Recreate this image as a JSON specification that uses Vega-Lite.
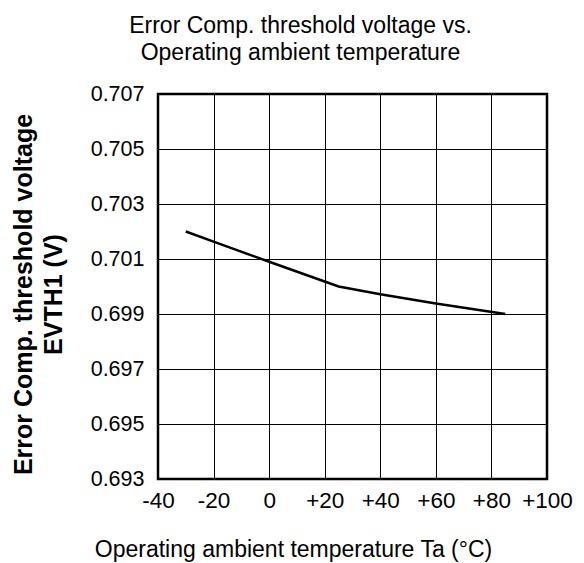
{
  "$schema": "https://vega.github.io/schema/vega-lite/v6.json",
  "autosize": "none",
  "width": 389,
  "height": 385,
  "padding": {"left": 158, "top": 94, "right": 37, "bottom": 84},
  "background": "white",
  "config": {
    "font": "Liberation Sans",
    "view": {"stroke": "black", "strokeWidth": 2.5},
    "axis": {"grid": true, "gridColor": "black", "gridOpacity": 1, "gridWidth": 1, "domain": false, "ticks": false, "labelColor": "black", "titleColor": "black", "labelFontSize": 21.5, "labelFont": "Liberation Sans", "labelOverlap": false, "labelFlush": false}
  },
  "title": {
    "text": ["Error Comp. threshold voltage vs.", "Operating ambient temperature"],
    "fontSize": 23,
    "fontWeight": "normal",
    "color": "black",
    "anchor": "middle",
    "frame": "group",
    "dx": -52,
    "offset": 18,
    "lineHeight": 27
  },
  "data": {
    "values": [
      {"temp": -30, "voltage": 0.7020},
      {"temp": -20, "voltage": 0.70163},
      {"temp": 0, "voltage": 0.70090},
      {"temp": 25, "voltage": 0.70000},
      {"temp": 40, "voltage": 0.69972},
      {"temp": 60, "voltage": 0.69938},
      {"temp": 85, "voltage": 0.69900}
    ]
  },
  "mark": {"type": "line", "color": "black", "strokeWidth": 2.5},
  "encoding": {
    "x": {
      "field": "temp",
      "type": "quantitative",
      "scale": {"domain": [-40, 100], "nice": false, "zero": false},
      "axis": {
        "values": [-40, -20, 0, 20, 40, 60, 80, 100],
        "labelExpr": "datum.value > 0 ? '+' + datum.value : '' + datum.value",
        "labelPadding": 10,
        "labelFontSize": 22.5,
        "title": "Operating ambient temperature Ta (°C)",
        "titleFontSize": 23,
        "titleFontWeight": "normal",
        "titleX": 135,
        "titleY": 77,
        "titleAlign": "center",
        "titleBaseline": "alphabetic"
      }
    },
    "y": {
      "field": "voltage",
      "type": "quantitative",
      "scale": {"domain": [0.693, 0.707], "nice": false, "zero": false},
      "axis": {
        "values": [0.693, 0.695, 0.697, 0.699, 0.701, 0.703, 0.705, 0.707],
        "format": ".3f",
        "labelPadding": 14,
        "title": ["Error Comp. threshold voltage", "EVTH1 (V)"],
        "titleFontSize": 25,
        "titleFontWeight": "bold",
        "titleX": -127,
        "titleY": 200,
        "titleAngle": -90,
        "titleAlign": "center",
        "titleBaseline": "alphabetic",
        "titleLineHeight": 30
      }
    }
  }
}
